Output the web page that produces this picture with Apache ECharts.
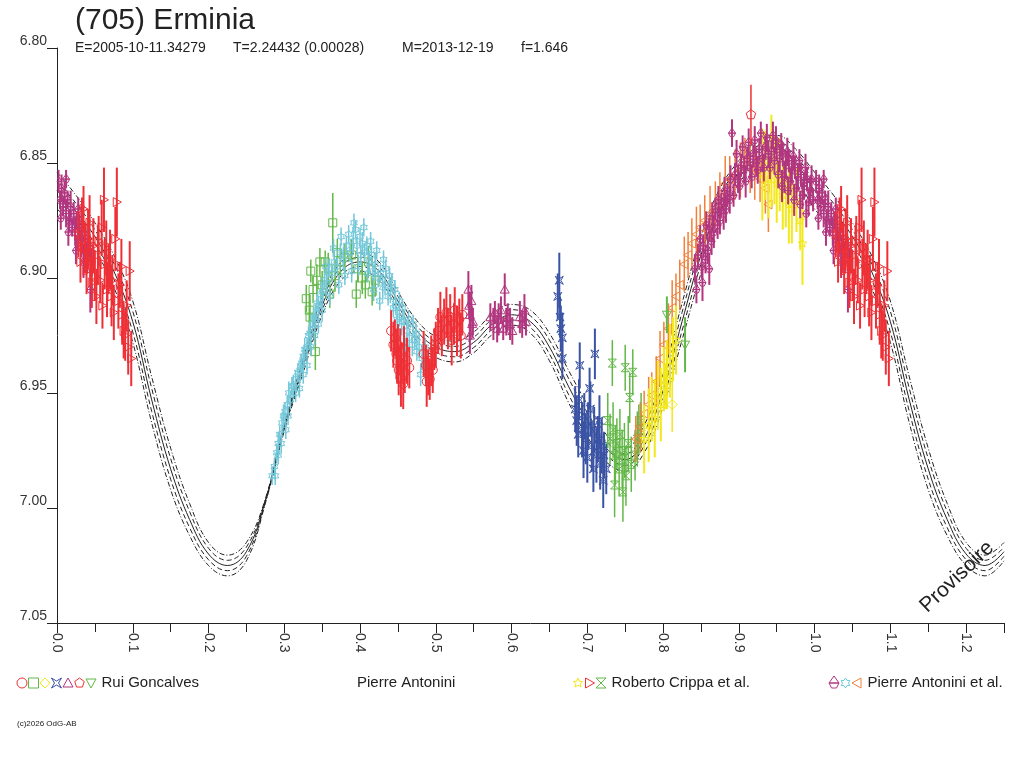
<!DOCTYPE html>
<html>
<head>
<meta charset="utf-8">
<title>(705) Erminia</title>
<script src="https://cdn.jsdelivr.net/npm/echarts@6/dist/echarts.min.js"></script>
<style>
html, body { margin: 0; padding: 0; background: #fff; }
#chart { width: 1024px; height: 768px; }
</style>
</head>
<body>
<div id="chart"></div>
<script>
/* (705) Erminia – courbe de lumière repliée en phase */

const curvePhase = [0.000, 0.025, 0.050, 0.075, 0.100, 0.125, 0.150, 0.175, 0.200, 0.225,
  0.250, 0.275, 0.300, 0.325, 0.350, 0.375, 0.400, 0.425, 0.450, 0.475,
  0.500, 0.525, 0.550, 0.575, 0.600, 0.625, 0.650, 0.675, 0.700, 0.725,
  0.750, 0.775, 0.800, 0.825, 0.850, 0.875, 0.900, 0.925, 0.950, 0.975, 1.000];
const curveMag = [6.862, 6.871, 6.882, 6.897, 6.919, 6.953, 6.983, 7.005, 7.020, 7.025,
  7.019, 6.997, 6.965, 6.938, 6.912, 6.897, 6.893, 6.897, 6.910, 6.923,
  6.930, 6.932, 6.928, 6.920, 6.916, 6.919, 6.930, 6.947, 6.962, 6.974,
  6.979, 6.970, 6.949, 6.919, 6.890, 6.868, 6.854, 6.845, 6.843, 6.850, 6.862];
// half width of the outer (dash-dot) envelope
const curveSpread = [0.008, 0.007, 0.006, 0.007, 0.009, 0.010, 0.009, 0.007, 0.005, 0.0045,
  0.004, 0.001, 0.0015, 0.003, 0.004, 0.004, 0.004, 0.004, 0.004, 0.0045,
  0.0045, 0.0045, 0.0045, 0.0045, 0.0045, 0.005, 0.006, 0.007, 0.007, 0.006,
  0.005, 0.006, 0.007, 0.008, 0.008, 0.007, 0.005, 0.005, 0.005, 0.006, 0.008];

const xTicks = [0.0, 0.1, 0.2, 0.3, 0.4, 0.5, 0.6, 0.7, 0.8, 0.9, 1.0, 1.1, 1.2];
const yTicks = [6.80, 6.85, 6.90, 6.95, 7.00, 7.05];

// observations: [phase, magnitude, error]
// Rui Goncalves
const ruiCircleRed = [
  [0.441, 6.923, 0.009], [0.444, 6.929, 0.010], [0.446, 6.926, 0.008], [0.448, 6.933, 0.011],
  [0.449, 6.936, 0.010], [0.450, 6.929, 0.009], [0.451, 6.940, 0.011], [0.453, 6.932, 0.010],
  [0.454, 6.944, 0.012], [0.455, 6.937, 0.009], [0.457, 6.946, 0.011], [0.458, 6.931, 0.010],
  [0.459, 6.941, 0.009], [0.462, 6.936, 0.010], [0.465, 6.939, 0.009],
  [0.484, 6.933, 0.010], [0.487, 6.938, 0.009], [0.488, 6.945, 0.011], [0.490, 6.941, 0.010],
  [0.492, 6.944, 0.009], [0.494, 6.936, 0.011], [0.496, 6.940, 0.010], [0.498, 6.931, 0.009],
  [0.500, 6.929, 0.010],
  [0.503, 6.923, 0.010], [0.506, 6.917, 0.011], [0.508, 6.925, 0.009], [0.511, 6.919, 0.010],
  [0.514, 6.915, 0.011], [0.516, 6.922, 0.009], [0.519, 6.917, 0.010], [0.521, 6.927, 0.011],
  [0.524, 6.920, 0.009], [0.525, 6.914, 0.010], [0.528, 6.923, 0.011], [0.531, 6.918, 0.009],
  [0.533, 6.925, 0.010], [0.535, 6.916, 0.009]
];
const ruiSquareGreen = [
  [0.335, 6.897, 0.005], [0.347, 6.893, 0.006], [0.354, 6.893, 0.005], [0.364, 6.876, 0.013],
  [0.370, 6.889, 0.006], [0.334, 6.917, 0.007], [0.341, 6.932, 0.008], [0.329, 6.909, 0.006],
  [0.333, 6.914, 0.007], [0.338, 6.905, 0.006], [0.343, 6.901, 0.007], [0.350, 6.903, 0.006],
  [0.358, 6.896, 0.007], [0.360, 6.907, 0.006], [0.367, 6.899, 0.007], [0.374, 6.893, 0.006],
  [0.380, 6.891, 0.006], [0.389, 6.890, 0.007], [0.397, 6.896, 0.006], [0.403, 6.900, 0.007],
  [0.407, 6.903, 0.006], [0.411, 6.893, 0.007], [0.416, 6.906, 0.006], [0.420, 6.901, 0.007],
  [0.395, 6.907, 0.006]
];
const ruiDiamondYellow = [[0.803, 6.947, 0.010], [0.812, 6.955, 0.012]];
const ruiQuadBlue = [
  [0.661, 6.908, 0.010], [0.663, 6.901, 0.012], [0.664, 6.917, 0.009], [0.665, 6.922, 0.010],
  [0.667, 6.926, 0.011], [0.667, 6.935, 0.009],
  [0.684, 6.957, 0.010], [0.686, 6.962, 0.011], [0.689, 6.953, 0.009], [0.690, 6.938, 0.010],
  [0.693, 6.966, 0.012], [0.696, 6.960, 0.010], [0.698, 6.970, 0.011], [0.701, 6.964, 0.010],
  [0.704, 6.957, 0.012], [0.706, 6.973, 0.011], [0.709, 6.966, 0.010], [0.710, 6.933, 0.011],
  [0.712, 6.977, 0.012], [0.714, 6.970, 0.010], [0.717, 6.981, 0.011], [0.719, 6.973, 0.012],
  [0.722, 6.977, 0.010], [0.725, 6.983, 0.011], [0.721, 6.988, 0.012], [0.688, 6.968, 0.010],
  [0.695, 6.975, 0.012], [0.700, 6.978, 0.011], [0.708, 6.983, 0.010], [0.703, 6.948, 0.009],
  [0.716, 6.962, 0.011]
];
const ruiTriMagenta = [
  [0.543, 6.905, 0.008], [0.544, 6.912, 0.006], [0.545, 6.916, 0.010], [0.547, 6.910, 0.007],
  [0.548, 6.920, 0.006], [0.545, 6.925, 0.008], [0.549, 6.919, 0.006],
  [0.572, 6.917, 0.006], [0.576, 6.920, 0.007], [0.578, 6.915, 0.005], [0.581, 6.922, 0.006],
  [0.583, 6.918, 0.007], [0.586, 6.914, 0.006], [0.589, 6.922, 0.005], [0.591, 6.905, 0.007],
  [0.593, 6.919, 0.006], [0.595, 6.917, 0.006], [0.598, 6.920, 0.007], [0.601, 6.923, 0.006],
  [0.611, 6.917, 0.007], [0.614, 6.920, 0.006], [0.617, 6.914, 0.007], [0.619, 6.919, 0.006]
];
const ruiPentaRed = [[0.916, 6.829, 0.013]];
const ruiTriDownGreen = [[0.805, 6.916, 0.008], [0.829, 6.929, 0.012]];

// Roberto Crippa et al.
const crippaStarYellow = [
  [0.775, 6.970, 0.015], [0.781, 6.964, 0.016], [0.785, 6.957, 0.014], [0.789, 6.961, 0.017],
  [0.793, 6.951, 0.015], [0.797, 6.955, 0.016], [0.801, 6.944, 0.014], [0.805, 6.942, 0.015],
  [0.809, 6.936, 0.016], [0.813, 6.931, 0.014], [0.817, 6.927, 0.015],
  [0.931, 6.855, 0.020], [0.935, 6.851, 0.015], [0.939, 6.857, 0.017], [0.943, 6.849, 0.020],
  [0.947, 6.853, 0.015], [0.950, 6.859, 0.017], [0.954, 6.855, 0.016], [0.958, 6.864, 0.015],
  [0.962, 6.862, 0.016], [0.966, 6.868, 0.017], [0.970, 6.870, 0.015], [0.976, 6.866, 0.014],
  [0.981, 6.875, 0.013], [0.984, 6.885, 0.018]
];
const crippaTriRed = [
  [0.028, 6.881, 0.010], [0.033, 6.877, 0.012], [0.037, 6.887, 0.011], [0.041, 6.883, 0.013],
  [0.044, 6.893, 0.010], [0.048, 6.886, 0.012], [0.050, 6.899, 0.011], [0.054, 6.890, 0.013],
  [0.057, 6.901, 0.010], [0.059, 6.878, 0.012], [0.062, 6.866, 0.014], [0.063, 6.894, 0.011],
  [0.066, 6.905, 0.012], [0.070, 6.892, 0.013], [0.073, 6.901, 0.011], [0.077, 6.883, 0.014],
  [0.079, 6.867, 0.015], [0.081, 6.910, 0.012], [0.083, 6.903, 0.010], [0.086, 6.916, 0.013],
  [0.088, 6.923, 0.012], [0.092, 6.912, 0.011], [0.094, 6.930, 0.012], [0.096, 6.897, 0.013],
  [0.031, 6.893, 0.009], [0.039, 6.897, 0.010], [0.046, 6.902, 0.011], [0.052, 6.908, 0.012],
  [0.060, 6.912, 0.010], [0.068, 6.896, 0.011], [0.075, 6.915, 0.012],
  [0.035, 6.870, 0.010], [0.043, 6.876, 0.012], [0.055, 6.884, 0.011], [0.065, 6.887, 0.012],
  [0.072, 6.908, 0.013], [0.085, 6.895, 0.012], [0.090, 6.925, 0.011], [0.098, 6.935, 0.012]
];
const crippaHourGreen = [
  [0.727, 6.962, 0.012], [0.730, 6.970, 0.011], [0.733, 6.937, 0.010], [0.734, 6.966, 0.012],
  [0.737, 6.977, 0.013], [0.739, 6.972, 0.011], [0.742, 6.983, 0.012], [0.743, 6.968, 0.011],
  [0.746, 6.979, 0.013], [0.749, 6.975, 0.012], [0.750, 6.939, 0.010], [0.751, 6.986, 0.013],
  [0.754, 6.972, 0.012], [0.756, 6.952, 0.011], [0.758, 6.981, 0.012], [0.760, 6.941, 0.010],
  [0.763, 6.977, 0.011], [0.766, 6.970, 0.012], [0.768, 6.966, 0.011], [0.771, 6.962, 0.012],
  [0.736, 6.990, 0.014], [0.747, 6.993, 0.013]
];

// Pierre Antonini et al.
const antoniniMagenta = [
  [0.002, 6.858, 0.005], [0.004, 6.866, 0.004], [0.006, 6.861, 0.006], [0.008, 6.869, 0.004],
  [0.010, 6.863, 0.005], [0.012, 6.872, 0.006], [0.014, 6.866, 0.004], [0.016, 6.875, 0.005],
  [0.018, 6.869, 0.007], [0.020, 6.878, 0.004], [0.022, 6.872, 0.005], [0.024, 6.880, 0.006],
  [0.026, 6.875, 0.004], [0.028, 6.883, 0.005], [0.030, 6.878, 0.006], [0.032, 6.886, 0.005],
  [0.034, 6.880, 0.004], [0.036, 6.888, 0.006], [0.038, 6.883, 0.005], [0.040, 6.891, 0.007],
  [0.043, 6.886, 0.005], [0.046, 6.893, 0.006], [0.044, 6.905, 0.010], [0.005, 6.874, 0.005],
  [0.015, 6.880, 0.006], [0.025, 6.888, 0.006], [0.035, 6.893, 0.007], [0.012, 6.857, 0.004],
  [0.028, 6.870, 0.005],
  [0.842, 6.896, 0.006], [0.846, 6.890, 0.005], [0.849, 6.883, 0.006], [0.853, 6.886, 0.005],
  [0.857, 6.877, 0.006], [0.861, 6.879, 0.005], [0.865, 6.873, 0.006], [0.869, 6.870, 0.005],
  [0.873, 6.866, 0.006], [0.877, 6.868, 0.005], [0.881, 6.862, 0.006], [0.885, 6.864, 0.005],
  [0.889, 6.857, 0.006], [0.891, 6.837, 0.006], [0.895, 6.855, 0.005], [0.899, 6.857, 0.006],
  [0.903, 6.851, 0.005], [0.907, 6.853, 0.006], [0.911, 6.848, 0.005], [0.915, 6.851, 0.006],
  [0.919, 6.847, 0.005], [0.923, 6.850, 0.006], [0.927, 6.844, 0.005], [0.931, 6.848, 0.006],
  [0.935, 6.843, 0.005], [0.939, 6.846, 0.006], [0.943, 6.845, 0.005], [0.947, 6.849, 0.006],
  [0.950, 6.844, 0.005], [0.954, 6.848, 0.006], [0.958, 6.846, 0.005], [0.962, 6.851, 0.006],
  [0.966, 6.849, 0.005], [0.970, 6.853, 0.006], [0.974, 6.852, 0.005], [0.978, 6.856, 0.006],
  [0.982, 6.855, 0.005], [0.986, 6.860, 0.006], [0.990, 6.857, 0.005], [0.994, 6.862, 0.006],
  [0.844, 6.905, 0.006], [0.851, 6.895, 0.005], [0.859, 6.888, 0.006], [0.867, 6.880, 0.007],
  [0.875, 6.875, 0.006], [0.883, 6.870, 0.006], [0.893, 6.864, 0.005], [0.901, 6.860, 0.006],
  [0.909, 6.858, 0.007], [0.917, 6.856, 0.005], [0.925, 6.853, 0.006], [0.933, 6.852, 0.006],
  [0.941, 6.852, 0.005], [0.945, 6.838, 0.006], [0.952, 6.855, 0.006], [0.960, 6.856, 0.007],
  [0.968, 6.858, 0.006], [0.976, 6.861, 0.005], [0.984, 6.864, 0.006], [0.992, 6.867, 0.006],
  [0.998, 6.866, 0.005], [0.852, 6.902, 0.008], [0.861, 6.896, 0.007],
  [0.856, 6.892, 0.006], [0.864, 6.884, 0.006], [0.872, 6.877, 0.006], [0.880, 6.872, 0.007],
  [0.888, 6.866, 0.006], [0.897, 6.846, 0.006], [0.905, 6.843, 0.005], [0.913, 6.841, 0.006],
  [0.921, 6.840, 0.006], [0.929, 6.837, 0.005], [0.937, 6.839, 0.006], [0.949, 6.840, 0.006],
  [0.956, 6.842, 0.005], [0.964, 6.845, 0.006], [0.972, 6.847, 0.006], [0.980, 6.849, 0.005],
  [0.988, 6.852, 0.006], [0.996, 6.857, 0.006], [0.957, 6.860, 0.007], [0.965, 6.862, 0.006],
  [0.973, 6.866, 0.007], [0.981, 6.868, 0.006], [0.989, 6.872, 0.006]
];
const antoniniCyan = [
  [0.284, 6.986, 0.004], [0.287, 6.982, 0.004], [0.290, 6.976, 0.004], [0.292, 6.972, 0.005],
  [0.294, 6.968, 0.004], [0.297, 6.963, 0.004], [0.299, 6.960, 0.005], [0.301, 6.958, 0.004],
  [0.304, 6.955, 0.004], [0.306, 6.950, 0.005], [0.308, 6.953, 0.004], [0.310, 6.947, 0.004],
  [0.312, 6.947, 0.005], [0.315, 6.944, 0.004], [0.318, 6.941, 0.004], [0.321, 6.940, 0.005],
  [0.323, 6.937, 0.004], [0.325, 6.934, 0.004], [0.327, 6.931, 0.005], [0.330, 6.930, 0.004],
  [0.332, 6.925, 0.004], [0.334, 6.924, 0.005], [0.337, 6.920, 0.004], [0.339, 6.917, 0.004],
  [0.341, 6.917, 0.005], [0.343, 6.911, 0.004], [0.345, 6.912, 0.004], [0.348, 6.907, 0.005],
  [0.351, 6.906, 0.004], [0.353, 6.901, 0.004], [0.356, 6.902, 0.005], [0.359, 6.896, 0.004],
  [0.363, 6.898, 0.004], [0.366, 6.893, 0.005], [0.370, 6.895, 0.004], [0.374, 6.889, 0.004],
  [0.378, 6.892, 0.005], [0.382, 6.886, 0.004], [0.387, 6.889, 0.004], [0.391, 6.884, 0.005],
  [0.396, 6.886, 0.004], [0.400, 6.882, 0.004], [0.403, 6.885, 0.005], [0.406, 6.889, 0.004],
  [0.409, 6.886, 0.004], [0.412, 6.893, 0.005], [0.415, 6.890, 0.004], [0.417, 6.897, 0.004],
  [0.420, 6.894, 0.005], [0.424, 6.900, 0.004], [0.427, 6.898, 0.004], [0.430, 6.904, 0.005],
  [0.433, 6.903, 0.004], [0.437, 6.908, 0.004], [0.440, 6.906, 0.005], [0.444, 6.913, 0.004],
  [0.447, 6.912, 0.004], [0.449, 6.918, 0.005], [0.452, 6.917, 0.004], [0.455, 6.921, 0.004],
  [0.458, 6.919, 0.005], [0.462, 6.923, 0.004], [0.465, 6.926, 0.004], [0.469, 6.929, 0.005],
  [0.472, 6.927, 0.004], [0.475, 6.932, 0.004], [0.478, 6.930, 0.005], [0.482, 6.935, 0.004],
  [0.485, 6.939, 0.004], [0.488, 6.942, 0.005],
  [0.372, 6.903, 0.004], [0.380, 6.899, 0.004], [0.389, 6.897, 0.005], [0.398, 6.895, 0.004],
  [0.360, 6.908, 0.004], [0.350, 6.914, 0.005], [0.405, 6.878, 0.004], [0.394, 6.879, 0.004],
  [0.385, 6.881, 0.004], [0.410, 6.898, 0.004], [0.418, 6.905, 0.005], [0.426, 6.910, 0.004],
  [0.434, 6.896, 0.004], [0.442, 6.902, 0.004], [0.452, 6.910, 0.004], [0.460, 6.930, 0.004],
  [0.470, 6.920, 0.004], [0.480, 6.942, 0.005], [0.486, 6.930, 0.004], [0.320, 6.948, 0.004],
  [0.330, 6.938, 0.004], [0.340, 6.925, 0.004], [0.302, 6.966, 0.004], [0.296, 6.972, 0.004],
  [0.355, 6.895, 0.004], [0.365, 6.887, 0.004], [0.375, 6.882, 0.004], [0.392, 6.876, 0.004],
  [0.401, 6.890, 0.004], [0.414, 6.884, 0.004], [0.422, 6.888, 0.004], [0.431, 6.892, 0.004],
  [0.439, 6.899, 0.004], [0.446, 6.905, 0.004], [0.456, 6.913, 0.004], [0.464, 6.918, 0.004],
  [0.474, 6.924, 0.004], [0.315, 6.950, 0.004], [0.325, 6.942, 0.004], [0.335, 6.930, 0.004],
  [0.345, 6.920, 0.004], [0.305, 6.960, 0.004], [0.292, 6.977, 0.004], [0.288, 6.986, 0.004]
];
const antoniniOrange = [
  [0.764, 6.970, 0.010], [0.770, 6.965, 0.011], [0.775, 6.959, 0.010], [0.781, 6.955, 0.012],
  [0.785, 6.951, 0.010], [0.791, 6.945, 0.011], [0.796, 6.935, 0.012], [0.801, 6.929, 0.010],
  [0.807, 6.922, 0.011], [0.812, 6.913, 0.012], [0.817, 6.908, 0.010], [0.822, 6.903, 0.011],
  [0.828, 6.894, 0.012], [0.833, 6.890, 0.010], [0.838, 6.885, 0.011], [0.844, 6.881, 0.012],
  [0.849, 6.878, 0.010], [0.855, 6.875, 0.011], [0.862, 6.872, 0.012], [0.869, 6.868, 0.010],
  [0.875, 6.865, 0.011], [0.882, 6.859, 0.012], [0.888, 6.857, 0.010], [0.895, 6.855, 0.011],
  [0.902, 6.853, 0.012], [0.908, 6.849, 0.010], [0.915, 6.852, 0.011], [0.921, 6.854, 0.012],
  [0.928, 6.857, 0.010], [0.935, 6.861, 0.011], [0.939, 6.868, 0.012]
];

const FONT = '"Liberation Sans", Arial, sans-serif';
const INK = '#222';

const RED = '#ee3036', GREEN = '#62b847', YELLOW = '#f2e81a', BLUE = '#3a53a4',
  MAGENTA = '#b2357f', CYAN = '#72c8da', ORANGE = '#f2803a';

// drawing order = stacking order
const groups = [
  { data: ruiSquareGreen, color: GREEN, mark: 'square', size: 4, bar: 1.5 },
  { data: antoniniCyan, color: CYAN, mark: 'star6', size: 4, bar: 1.5 },
  { data: ruiCircleRed, color: RED, mark: 'circle', size: 4.5, bar: 2 },
  { data: ruiTriMagenta, color: MAGENTA, mark: 'triUp', size: 4.5, bar: 2 },
  { data: ruiQuadBlue, color: BLUE, mark: 'quad', size: 4, bar: 2 },
  { data: crippaHourGreen, color: GREEN, mark: 'hourglass', size: 4, bar: 1.5 },
  { data: antoniniOrange, color: ORANGE, mark: 'triLeft', size: 4.5, bar: 1.5 },
  { data: crippaStarYellow, color: YELLOW, mark: 'star5', size: 4.5, bar: 2 },
  { data: ruiDiamondYellow, color: YELLOW, mark: 'diamond', size: 5, bar: 1.5 },
  { data: ruiTriDownGreen, color: GREEN, mark: 'triDown', size: 4.5, bar: 2 },
  { data: antoniniMagenta, color: MAGENTA, mark: 'twin', size: 3.5, bar: 2 },
  { data: crippaTriRed, color: RED, mark: 'triRight', size: 4.5, bar: 2 },
  { data: ruiPentaRed, color: RED, mark: 'pentagon', size: 5, bar: 1.5 }
];

function starPts(cx, cy, ro, ri, n) {
  const pts = [];
  for (let i = 0; i < n * 2; i++) {
    const r = i % 2 ? ri : ro;
    const a = -Math.PI / 2 + i * Math.PI / n;
    pts.push([cx + r * Math.cos(a), cy + r * Math.sin(a)]);
  }
  return pts;
}

function ngon(cx, cy, r, n) {
  const pts = [];
  for (let i = 0; i < n; i++) {
    const a = -Math.PI / 2 + i * 2 * Math.PI / n;
    pts.push([cx + r * Math.cos(a), cy + r * Math.sin(a)]);
  }
  return pts;
}

function markerEl(kind, cx, cy, s, color) {
  const style = { fill: 'none', stroke: color, lineWidth: 1 };
  const poly = (pts) => ({ type: 'polygon', shape: { points: pts }, style });
  switch (kind) {
    case 'circle': return { type: 'circle', shape: { cx, cy, r: s }, style };
    case 'square': return { type: 'rect', shape: { x: cx - s, y: cy - s, width: 2 * s, height: 2 * s }, style };
    case 'diamond': return poly([[cx, cy - s], [cx + s, cy], [cx, cy + s], [cx - s, cy]]);
    case 'quad': {
      const k = s * 0.4;
      return poly([[cx - s, cy - s], [cx, cy - k], [cx + s, cy - s], [cx + k, cy],
        [cx + s, cy + s], [cx, cy + k], [cx - s, cy + s], [cx - k, cy]]);
    }
    case 'triUp': return poly([[cx, cy - s], [cx + s, cy + s * 0.8], [cx - s, cy + s * 0.8]]);
    case 'triDown': return poly([[cx, cy + s], [cx + s, cy - s * 0.8], [cx - s, cy - s * 0.8]]);
    case 'triRight': return poly([[cx + s, cy], [cx - s * 0.8, cy - s], [cx - s * 0.8, cy + s]]);
    case 'triLeft': return poly([[cx - s, cy], [cx + s * 0.8, cy - s], [cx + s * 0.8, cy + s]]);
    case 'pentagon': return poly(ngon(cx, cy, s, 5));
    case 'star5': return poly(starPts(cx, cy, s, s * 0.45, 5));
    case 'star6': return poly(starPts(cx, cy, s, s * 0.6, 6));
    case 'hourglass': return poly([[cx - s, cy - s], [cx + s, cy - s], [cx - s, cy + s], [cx + s, cy + s]]);
    case 'twin': return {
      type: 'group',
      children: [
        poly([[cx, cy - s * 1.4], [cx + s, cy], [cx - s, cy]]),
        poly([[cx - s, cy], [cx + s, cy], [cx + s * 0.5, cy + s], [cx - s * 0.5, cy + s]])
      ]
    };
  }
  return null;
}

// light curve repeats with period 1: copy phases 0..0.25 to 1..1.25
function wrapPhase(rows, skipZero) {
  const out = rows.slice();
  rows.forEach((r) => {
    if (r[0] <= 0.25 && !(skipZero && r[0] === 0)) out.push([r[0] + 1].concat(r.slice(1)));
  });
  return out;
}

function curveData(k) {
  return wrapPhase(curvePhase.map((p, i) => [p, curveMag[i] + k * curveSpread[i]]), true);
}

function makeRender(g) {
  return function (params, api) {
    const x = api.value(0), m = api.value(1), e = api.value(2);
    const p = api.coord([x, m]);
    const a = api.coord([x, m - e]);
    const b = api.coord([x, m + e]);
    return {
      type: 'group',
      children: [
        { type: 'line', shape: { x1: p[0], y1: a[1], x2: p[0], y2: b[1] }, style: { stroke: g.color, lineWidth: g.bar } },
        markerEl(g.mark, p[0], p[1], g.size, g.color)
      ]
    };
  };
}

const curveStyles = [
  { k: -1, type: [5, 2, 1, 2] },
  { k: -0.5, type: [5, 3] },
  { k: 0, type: 'solid' },
  { k: 0.5, type: [5, 3] },
  { k: 1, type: [5, 2, 1, 2] }
];

const series = curveStyles.map((c) => ({
  type: 'line',
  data: curveData(c.k),
  smooth: 0.4,
  showSymbol: false,
  silent: true,
  z: 1,
  lineStyle: { color: INK, width: 1, type: c.type }
})).concat(groups.map((g, i) => ({
  type: 'custom',
  renderItem: makeRender(g),
  data: wrapPhase(g.data),
  encode: { x: 0, y: 1 },
  clip: true,
  silent: true,
  z: 2 + i
})));

function legendGroup(x, marks, label) {
  const children = marks.map((mk, i) => markerEl(mk[0], x + i * 11.5, 683, 5, mk[1]));
  children.push({
    type: 'text',
    style: { text: label, x: x + marks.length * 11.5 - 1, y: 683, font: '15px ' + FONT, fill: INK, verticalAlign: 'middle' }
  });
  return { type: 'group', children };
}

const chart = echarts.init(document.getElementById('chart'));
chart.setOption({
  animation: false,
  backgroundColor: '#fff',
  textStyle: { fontFamily: FONT },
  grid: { left: 57, right: 20, top: 48, bottom: 145, containLabel: false },
  xAxis: {
    type: 'value',
    min: xTicks[0],
    max: 1.25,
    interval: 0.1,
    axisLine: { show: true, lineStyle: { color: INK, width: 1 } },
    axisTick: { show: true, length: 10, lineStyle: { color: INK } },
    minorTick: { show: true, splitNumber: 2, length: 9, lineStyle: { color: INK } },
    axisLabel: {
      rotate: -90, margin: 10, fontSize: 14, color: '#333', showMaxLabel: false,
      formatter: (v) => xTicks.some((t) => Math.abs(t - v) < 1e-6) ? v.toFixed(1) : ''
    },
    splitLine: { show: false }
  },
  yAxis: {
    type: 'value',
    inverse: true,
    min: yTicks[0],
    max: yTicks[yTicks.length - 1],
    interval: 0.05,
    axisLine: { show: true, lineStyle: { color: INK, width: 1 } },
    axisTick: { show: true, length: 10, lineStyle: { color: INK } },
    axisLabel: { margin: 10, fontSize: 14, color: '#333', verticalAlign: 'bottom', formatter: (v) => v.toFixed(2) },
    splitLine: { show: false }
  },
  series,
  graphic: [
    { type: 'text', left: 75, top: 6, style: { text: '(705) Erminia', font: '30px ' + FONT, fill: INK } },
    { type: 'text', left: 75, top: 41, style: { text: 'E=2005-10-11.34279', font: '14px ' + FONT, fill: INK } },
    { type: 'text', left: 233, top: 41, style: { text: 'T=2.24432 (0.00028)', font: '14px ' + FONT, fill: INK } },
    { type: 'text', left: 402, top: 41, style: { text: 'M=2013-12-19', font: '14px ' + FONT, fill: INK } },
    { type: 'text', left: 521, top: 41, style: { text: 'f=1.646', font: '14px ' + FONT, fill: INK } },
    {
      type: 'text', x: 957, y: 577, rotation: 0.76, z: 50,
      style: { text: 'Provisoire', font: '21px ' + FONT, fill: INK, align: 'center', verticalAlign: 'middle' }
    },
    legendGroup(22, [['circle', RED], ['square', GREEN], ['diamond', YELLOW], ['quad', BLUE],
      ['triUp', MAGENTA], ['pentagon', RED], ['triDown', GREEN]], 'Rui Goncalves'),
    { type: 'text', x: 357, y: 683, style: { text: 'Pierre Antonini', font: '15px ' + FONT, fill: INK, verticalAlign: 'middle' } },
    legendGroup(578, [['star5', YELLOW], ['triRight', RED], ['hourglass', GREEN]], 'Roberto Crippa et al.'),
    legendGroup(834, [['twin', MAGENTA], ['star6', CYAN], ['triLeft', ORANGE]], 'Pierre Antonini et al.'),
    { type: 'text', left: 17, top: 720, style: { text: '(c)2026 OdG-AB', font: '8px ' + FONT, fill: INK } }
  ]
});

window.addEventListener('resize', () => chart.resize());
</script>
</body>
</html>
